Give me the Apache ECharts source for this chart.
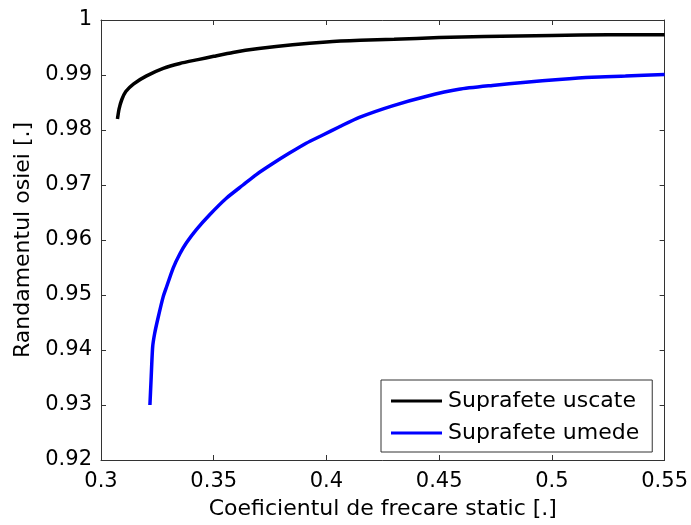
<!DOCTYPE html>
<html>
<head>
<meta charset="utf-8">
<script src="https://cdn.jsdelivr.net/npm/echarts@6/dist/echarts.min.js"></script>
<style>
  html, body { margin: 0; padding: 0; background: #fff; }
  #chart { width: 691px; height: 525px; }
</style>
</head>
<body>
<div id="chart"></div>
<script>
// Dry surfaces: static friction coefficient vs. axle efficiency
const dryX = [0.3073, 0.3080, 0.3092, 0.3110, 0.3145, 0.3200, 0.3276, 0.3350, 0.3430, 0.3500,
              0.3585, 0.3700, 0.3850, 0.4000, 0.4150, 0.4300, 0.4500, 0.4700, 0.5000, 0.5250, 0.5500];
const dryY = [0.9820, 0.9838, 0.9855, 0.9870, 0.9884, 0.9898, 0.9912, 0.9921, 0.9928, 0.9934,
              0.9941, 0.9948, 0.9955, 0.9960, 0.9963, 0.9965, 0.9968, 0.9970, 0.9972, 0.9973, 0.9973];

// Wet surfaces
const wetX = [0.3217, 0.3222, 0.3229, 0.3238, 0.3254, 0.3276, 0.3291, 0.3320, 0.3350, 0.3379,
              0.3423, 0.3482, 0.3556, 0.3630, 0.3689, 0.3762, 0.3836, 0.3910, 0.3984, 0.4058,
              0.4146, 0.4293, 0.4441, 0.4588, 0.4736, 0.4884, 0.5031, 0.5178, 0.5326, 0.5500];
const wetY = [0.9300, 0.9345, 0.9405, 0.9430, 0.9460, 0.9497, 0.9515, 0.9549, 0.9575, 0.9595,
              0.9619, 0.9646, 0.9676, 0.9700, 0.9719, 0.9739, 0.9758, 0.9776, 0.9791, 0.9806,
              0.9823, 0.9844, 0.9861, 0.9874, 0.9881, 0.9887, 0.9892, 0.9896, 0.9898, 0.9901];

const seriesNames = ['Suprafete uscate', 'Suprafete umede'];
const seriesColors = ['#000000', '#0000ff'];

const xTickValues = [0.3, 0.35, 0.4, 0.45, 0.5, 0.55];
const xTickLabels = ['0.3', '0.35', '0.4', '0.45', '0.5', '0.55'];
const yTickValues = [0.92, 0.93, 0.94, 0.95, 0.96, 0.97, 0.98, 0.99, 1];
const yTickLabels = ['0.92', '0.93', '0.94', '0.95', '0.96', '0.97', '0.98', '0.99', '1'];

const xTitle = 'Coeficientul de frecare static [.]';
const yTitle = 'Randamentul osiei [.]';

function tickLabel(values, labels) {
  return function (v) {
    let best = 0;
    for (let i = 1; i < values.length; i++) {
      if (Math.abs(values[i] - v) < Math.abs(values[best] - v)) best = i;
    }
    return labels[best];
  };
}

const FONT = 'DejaVu Sans';
const AXIS_COLOR = '#333333';

function frameAxis(extra) {
  return Object.assign({
    type: 'value',
    axisLine: { show: true, onZero: false, lineStyle: { color: AXIS_COLOR, width: 1 } },
    axisTick: { show: true, inside: true, length: 5, lineStyle: { color: AXIS_COLOR, width: 1 } },
    splitLine: { show: false }
  }, extra);
}

const chart = echarts.init(document.getElementById('chart'), null, { renderer: 'canvas' });

chart.setOption({
  animation: false,
  backgroundColor: '#ffffff',
  textStyle: { fontFamily: FONT },
  grid: { left: 101, right: 26, top: 20, bottom: 65, containLabel: false },
  xAxis: [
    frameAxis({
      position: 'bottom',
      min: 0.3, max: 0.55, interval: 0.05,
      name: xTitle,
      nameLocation: 'middle',
      nameGap: 38,
      nameTextStyle: { fontFamily: FONT, fontSize: 22, color: '#000' },
      axisLabel: {
        show: true, margin: 11, fontFamily: FONT, fontSize: 21, color: '#000',
        formatter: tickLabel(xTickValues, xTickLabels)
      }
    }),
    frameAxis({
      position: 'top',
      min: 0.3, max: 0.55, interval: 0.05,
      axisLabel: { show: false }
    })
  ],
  yAxis: [
    frameAxis({
      position: 'left',
      min: 0.92, max: 1, interval: 0.01,
      name: yTitle,
      nameLocation: 'middle',
      nameGap: 66,
      nameRotate: 90,
      nameTextStyle: { fontFamily: FONT, fontSize: 22, color: '#000' },
      axisLabel: {
        show: true, margin: 9, fontFamily: FONT, fontSize: 21, color: '#000',
        formatter: tickLabel(yTickValues, yTickLabels)
      }
    }),
    frameAxis({
      position: 'right',
      min: 0.92, max: 1, interval: 0.01,
      axisLabel: { show: false }
    })
  ],
  legend: {
    orient: 'vertical',
    left: 381,
    top: 380,
    padding: [10, 13, 8, 10],
    itemGap: 10,
    itemWidth: 51,
    itemHeight: 3,
    icon: 'rect',
    borderColor: '#333333',
    borderWidth: 1,
    backgroundColor: '#ffffff',
    textStyle: { fontFamily: FONT, fontSize: 22, color: '#000', padding: [0, 0, 0, 1] },
    data: seriesNames
  },
  series: [
    {
      name: seriesNames[0],
      type: 'line',
      xAxisIndex: 0, yAxisIndex: 0,
      data: dryX.map((x, i) => [x, dryY[i]]),
      symbol: 'none',
      smooth: 0.2,
      lineStyle: { color: seriesColors[0], width: 3.5 },
      itemStyle: { color: seriesColors[0] }
    },
    {
      name: seriesNames[1],
      type: 'line',
      xAxisIndex: 0, yAxisIndex: 0,
      data: wetX.map((x, i) => [x, wetY[i]]),
      symbol: 'none',
      smooth: 0.2,
      lineStyle: { color: seriesColors[1], width: 3.5 },
      itemStyle: { color: seriesColors[1] }
    }
  ]
});
</script>
</body>
</html>
